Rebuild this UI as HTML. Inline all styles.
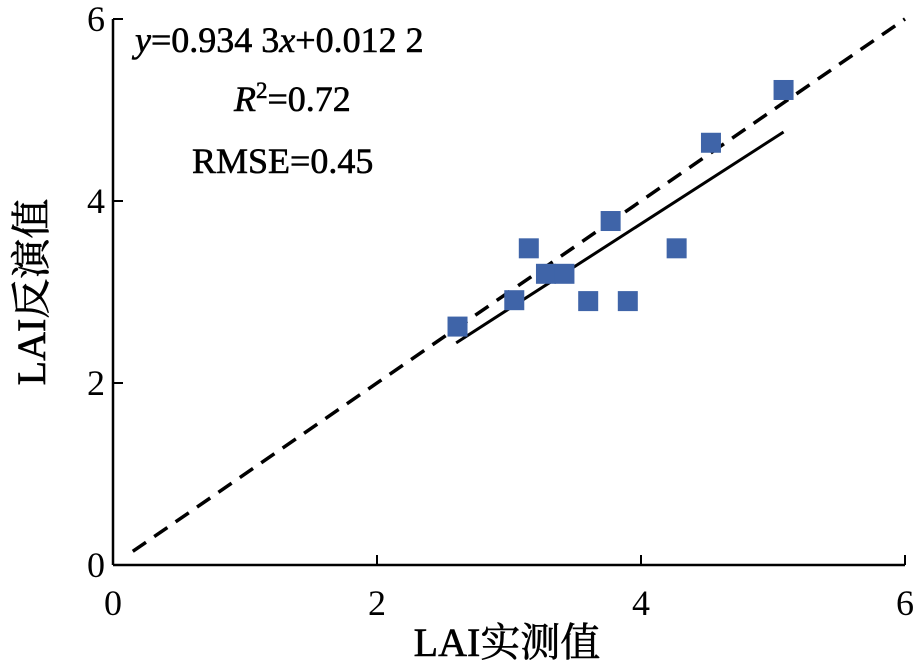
<!DOCTYPE html>
<html><head><meta charset="utf-8"><style>body{margin:0;background:#fff}svg{display:block}</style></head>
<body>
<svg width="923" height="668" viewBox="0 0 923 668" xmlns="http://www.w3.org/2000/svg" font-family="'Liberation Serif','Noto Serif CJK SC',serif">
<g id="plot"></g>
<script>
const xs=[2.61,3.04,3.15,3.28,3.42,3.60,3.77,3.90,4.27,4.53,5.08];
const ys=[2.62,2.91,3.48,3.20,3.20,2.90,3.78,2.90,3.48,4.64,5.22];
const ticks=[0,2,4,6];
const slope=0.9343, intercept=0.0122, fitMin=2.6, fitMax=5.08;
const X=v=>113+v*132, Y=v=>565-v*91;
const g=document.getElementById('plot');
const NS='http://www.w3.org/2000/svg';
function mk(t,a){const e=document.createElementNS(NS,t);for(const k in a)e.setAttribute(k,a[k]);g.appendChild(e);return e;}
let e;
e=mk('line',{x1:X(0),y1:Y(0),x2:X(0),y2:Y(6),stroke:'#000','stroke-width':2.5});


e=mk('line',{x1:X(0),y1:Y(0),x2:X(6),y2:Y(0),stroke:'#000','stroke-width':2.5});


ticks.forEach(t=>{
 e=mk('line',{x1:X(t),y1:Y(0),x2:X(t),y2:Y(0)-10,stroke:'#000','stroke-width':2});
 
 
 e=mk('line',{x1:X(0),y1:Y(t),x2:X(0)+10,y2:Y(t),stroke:'#000','stroke-width':2});
 
 
 e=mk('text',{x:X(t),y:Y(0)+50,'font-size':36,'text-anchor':'middle'});e.textContent=t;
 
 
 e=mk('text',{x:X(0)-8,y:Y(t)+12,'font-size':36,'text-anchor':'end'});e.textContent=t;
 
 
});
e=mk('line',{x1:X(0.15),y1:Y(0.15),x2:X(6),y2:Y(6),stroke:'#000','stroke-width':3.5,'stroke-dasharray':'16,10'});


e=mk('line',{x1:X(fitMin),y1:Y(slope*fitMin+intercept),x2:X(fitMax),y2:Y(slope*fitMax+intercept),stroke:'#000','stroke-width':3});


xs.forEach((x,i)=>{
 e=mk('rect',{x:X(x)-10,y:Y(ys[i])-10,width:20,height:20,fill:'#3f64a8'});
 
 
});
</script>
<g stroke="#000" stroke-width="0.6">
<text x="135" y="52" font-size="36"><tspan font-style="italic">y</tspan>=0.934 3<tspan font-style="italic">x</tspan>+0.012 2</text>
<text x="234" y="111" font-size="36"><tspan font-style="italic">R</tspan><tspan font-size="23" dy="-13">2</tspan><tspan dy="13">=0.72</tspan></text>
<text x="192" y="173" font-size="36">RMSE=0.45</text>
<text x="507" y="656" font-size="40" text-anchor="middle">LAI实测值</text>
<text transform="translate(45,292) rotate(-90)" font-size="40" text-anchor="middle">LAI反演值</text>
</g>
</svg>
</body></html>
